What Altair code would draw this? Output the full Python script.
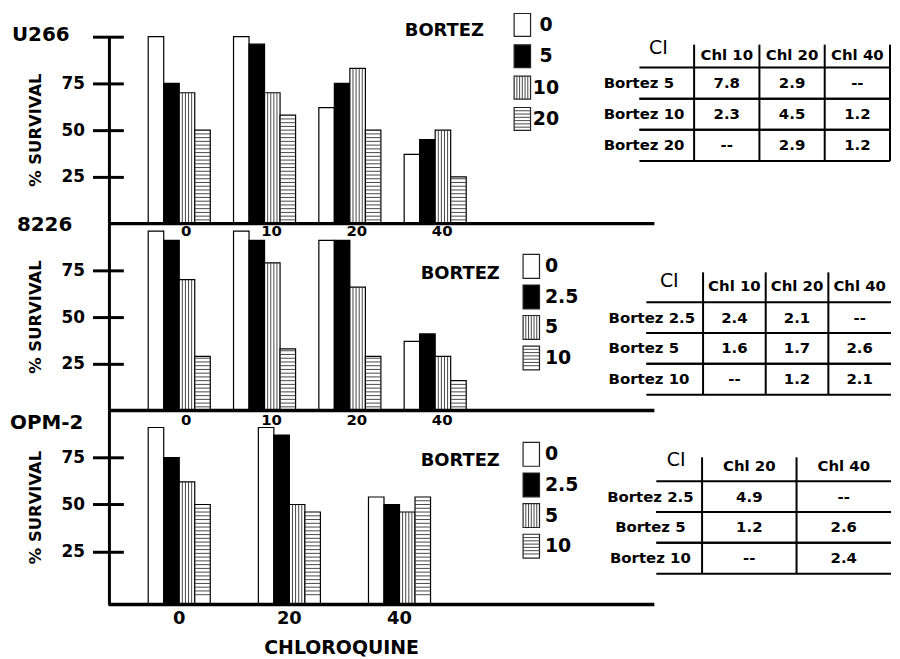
import altair as alt
import pandas as pd
import numpy as np

FONT = "DejaVu Sans"

# ---------------- data ----------------
# U266
u266_chl = ["0", "10", "20", "40"]
u266_bortez = ["0", "5", "10", "20"]
u266_b0 = [100, 100, 62, 37]
u266_b1 = [75, 96, 75, 45]
u266_b2 = [70, 70, 83, 50]
u266_b3 = [50, 58, 50, 25]
u266_ci_rows = ["Bortez 5", "Bortez 10", "Bortez 20"]
u266_ci_cols = ["Chl 10", "Chl 20", "Chl 40"]
u266_ci = [["7.8", "2.9", "--"], ["2.3", "4.5", "1.2"], ["--", "2.9", "1.2"]]

# 8226
r8226_chl = ["0", "10", "20", "40"]
r8226_bortez = ["0", "2.5", "5", "10"]
r8226_b0 = [96, 96, 91, 37]
r8226_b1 = [91, 91, 91, 41]
r8226_b2 = [70, 79, 66, 29]
r8226_b3 = [29, 33, 29, 16]
r8226_ci_rows = ["Bortez 2.5", "Bortez 5", "Bortez 10"]
r8226_ci_cols = ["Chl 10", "Chl 20", "Chl 40"]
r8226_ci = [["2.4", "2.1", "--"], ["1.6", "1.7", "2.6"], ["--", "1.2", "2.1"]]

# OPM-2
opm2_chl = ["0", "20", "40"]
opm2_bortez = ["0", "2.5", "5", "10"]
opm2_b0 = [91, 91, 54]
opm2_b1 = [75, 87, 50]
opm2_b2 = [62, 50, 46]
opm2_b3 = [50, 46, 54]
opm2_ci_rows = ["Bortez 2.5", "Bortez 5", "Bortez 10"]
opm2_ci_cols = ["Chl 20", "Chl 40"]
opm2_ci = [["4.9", "--"], ["1.2", "2.6"], ["--", "2.4"]]

# ---------------- layout ----------------
W = 787          # plot width (axis to right edge of tables)
BW = 15.6        # px per bar
FILLS = ["white", "black", "white", "white"]
STRIPE = "#333333"


def one():
    return pd.DataFrame({"k": [0]})


def make_row(cfg):
    H = cfg["H"]
    stride = cfg["stride"]
    # ---------- group A : bars through data scales ----------
    xs = alt.Scale(domain=[-2.5, W / BW - 2.5], nice=False, zero=False)
    ys = alt.Scale(domain=cfg["ydom"], nice=False, zero=False)
    yaxis = alt.Axis(values=cfg["ticks"], domain=False, grid=False, tickSize=31,
                     tickWidth=3, tickColor="black", offset=-14, labelFont=FONT,
                     labelFontSize=17, labelFontWeight="bold", labelColor="black",
                     labelPadding=8, title=None,
                     labelExpr="datum.value == 100 ? '' : datum.label")

    def X():
        return alt.X("u:Q", scale=xs, axis=None)

    def Y():
        return alt.Y("v:Q", scale=ys, axis=yaxis)

    recs = []
    for s, (b, vals) in enumerate(zip(cfg["bortez"], cfg["series"])):
        for g, (c, v) in enumerate(zip(cfg["chl"], vals)):
            u = g * stride + s
            recs.append(dict(chl=c, bortez=b, s=s, v=v, u=u, u2=u + 1, fill=FILLS[s]))
    bdf = pd.DataFrame(recs)

    vs = []
    hs = []
    for r in recs:
        if r["s"] == 2:
            for k in range(1, 5):
                vs.append(dict(u=r["u"] + k * 0.2, v=r["v"]))
        if r["s"] == 3:
            for lev in np.arange(2, r["v"] - 0.9, 2.0):
                hs.append(dict(u=r["u"], u2=r["u2"], v=float(lev)))
    vdf = pd.DataFrame(vs)
    hdf = pd.DataFrame(hs)

    bars = alt.Chart(bdf).mark_rect(stroke="black", strokeWidth=1.2).encode(
        x=X(), x2="u2:Q", y=Y(), y2=alt.value(H), fill=alt.Fill("fill:N", scale=None))
    vstr = alt.Chart(vdf).mark_rule(color=STRIPE, strokeWidth=0.9).encode(
        x=X(), y=Y(), y2=alt.value(H))
    hstr = alt.Chart(hdf).mark_rule(color=STRIPE, strokeWidth=0.9).encode(
        x=X(), x2="u2:Q", y=Y())
    ldf = pd.DataFrame({"chl": cfg["chl"],
                        "u": [g * stride + 2 + cfg["lab_off"] for g in range(len(cfg["chl"]))]})
    glabels = alt.Chart(ldf).mark_text(font=FONT, fontWeight="bold", fontSize=cfg["lab_size"],
                                       baseline="middle", align="center", color="black").encode(
        x=X(), y=alt.value(cfg["lab_y"]), text="chl:N")

    yline = alt.Chart(one()).mark_rule(color="black", strokeWidth=3).encode(
        x=alt.value(0), y=alt.value(0), y2=alt.value(H))
    xline = alt.Chart(one()).mark_rule(color="black", strokeWidth=3.5).encode(
        x=alt.value(-1), x2=alt.value(548), y=alt.value(H))
    ytitle = alt.Chart(one()).mark_text(text="% SURVIVAL", font=FONT, fontWeight="bold",
                                        fontSize=16.5, angle=270, align="center",
                                        baseline="middle", color="black").encode(
        x=alt.value(-74), y=alt.value(H / 2))
    pname = alt.Chart(one()).mark_text(text=cfg["name"], font=FONT, fontWeight="bold",
                                       fontSize=20, align="left", baseline="middle",
                                       color="black").encode(
        x=alt.value(cfg["name_xy"][0]), y=alt.value(cfg["name_xy"][1]))
    bortez_t = alt.Chart(one()).mark_text(text="BORTEZ", font=FONT, fontWeight="bold",
                                          fontSize=18, align="left", baseline="middle",
                                          color="black").encode(
        x=alt.value(cfg["bortez_xy"][0]), y=alt.value(cfg["bortez_xy"][1]))
    alayers = [bars, vstr, hstr, glabels, yline, xline, ytitle, pname, bortez_t]
    if cfg.get("xtitle"):
        alayers.append(alt.Chart(one()).mark_text(text="CHLOROQUINE", font=FONT,
                                                  fontWeight="bold", fontSize=19,
                                                  align="center", baseline="middle",
                                                  color="black").encode(
            x=alt.value(233.5), y=alt.value(239)))
    groupA = alt.layer(*alayers)

    # ---------- group B : hand-drawn legend (pixel scale) ----------
    pxs = alt.Scale(domain=[0, W], nice=False, zero=False)
    pys = alt.Scale(domain=[0, H], nice=False, zero=False, reverse=True)
    lx0, ltop, lstep, lh, lw = cfg["leg"]
    lrec, lvs, lhs, llab = [], [], [], []
    for i, b in enumerate(cfg["bortez"]):
        t = ltop + i * lstep
        lrec.append(dict(px=lx0, px2=lx0 + lw, py=t, py2=t + lh, fill=FILLS[i]))
        llab.append(dict(label=b, py=t + lh / 2))
        if i == 2:
            for k in range(1, 6):
                lvs.append(dict(px=lx0 + k * lw / 6, py=t, py2=t + lh))
        if i == 3:
            for yy in np.arange(t + 3.3, t + lh - 1, 3.3):
                lhs.append(dict(px=lx0, px2=lx0 + lw, py=float(yy)))
    PX = lambda: alt.X("px:Q", scale=pxs, axis=None)
    PY = lambda: alt.Y("py:Q", scale=pys, axis=None)
    leg_r = alt.Chart(pd.DataFrame(lrec)).mark_rect(stroke="#222222", strokeWidth=1.2).encode(
        x=PX(), x2="px2:Q", y=PY(), y2="py2:Q", fill=alt.Fill("fill:N", scale=None))
    leg_v = alt.Chart(pd.DataFrame(lvs)).mark_rule(color=STRIPE, strokeWidth=0.9).encode(
        x=PX(), y=PY(), y2="py2:Q")
    leg_h = alt.Chart(pd.DataFrame(lhs)).mark_rule(color=STRIPE, strokeWidth=0.9).encode(
        x=PX(), x2="px2:Q", y=PY())
    leg_t = alt.Chart(pd.DataFrame(llab)).mark_text(font=FONT, fontWeight="bold", fontSize=19,
                                                    align=cfg["leg_align"], baseline="middle",
                                                    color="black").encode(
        x=alt.value(cfg["leg_lx"]), y=PY(), text="label:N")
    groupB = alt.layer(leg_r, leg_v, leg_h, leg_t)

    # ---------- group C : CI table (band scales) ----------
    tb = cfg["table"]
    cols, rows, vals = tb["cols"], tb["rows"], tb["vals"]
    cxs = alt.Scale(domain=cols, range=tb["xr"], paddingInner=0, paddingOuter=0)
    rys = alt.Scale(domain=rows, range=tb["yr"], paddingInner=0, paddingOuter=0)
    cells = pd.DataFrame([dict(row=r, col=c, val=vals[i][j])
                          for i, r in enumerate(rows) for j, c in enumerate(cols)])
    cdf = pd.DataFrame({"col": cols})
    rdf = pd.DataFrame({"row": rows})
    txt = dict(font=FONT, fontWeight="bold", fontSize=15, baseline="middle", color="black")
    t_cells = alt.Chart(cells).mark_text(align="center", **txt).encode(
        x=alt.X("col:N", scale=cxs, axis=None), y=alt.Y("row:N", scale=rys, axis=None),
        text="val:N")
    t_head = alt.Chart(cdf).mark_text(align="center", **txt).encode(
        x=alt.X("col:N", scale=cxs, axis=None), y=alt.value(tb["head_y"]), text="col:N")
    t_rows = alt.Chart(rdf).mark_text(align=tb["rl_align"], **txt).encode(
        x=alt.value(tb["rl_x"]), y=alt.Y("row:N", scale=rys, axis=None), text="row:N")
    t_ci = alt.Chart(one()).mark_text(text="CI", font=FONT, fontSize=19, align="center",
                                      baseline="middle", color="black").encode(
        x=alt.value(tb["ci"][0]), y=alt.value(tb["ci"][1]))
    hl0 = alt.Chart(rdf).mark_rule(color="black", strokeWidth=2).encode(
        y=alt.Y("row:N", scale=rys, axis=None, bandPosition=0),
        x=alt.value(tb["hx"][0]), x2=alt.value(tb["hx"][1]))
    hl1 = alt.Chart(rdf).mark_rule(color="black", strokeWidth=2).encode(
        y=alt.Y("row:N", scale=rys, axis=None, bandPosition=1),
        x=alt.value(tb["hx"][0]), x2=alt.value(tb["hx"][1]))
    vl0 = alt.Chart(cdf).mark_rule(color="black", strokeWidth=2).encode(
        x=alt.X("col:N", scale=cxs, axis=None, bandPosition=0),
        y=alt.value(tb["vy0"]), y2=alt.value(tb["yr"][1]))
    clayers = [t_cells, t_head, t_rows, t_ci, hl0, hl1, vl0]
    if tb.get("right_edge"):
        clayers.append(alt.Chart(pd.DataFrame({"col": cols[-1:]})).mark_rule(
            color="black", strokeWidth=2).encode(
            x=alt.X("col:N", scale=cxs, axis=None, bandPosition=1),
            y=alt.value(tb["vy0"]), y2=alt.value(tb["yr"][1])))
    groupC = alt.layer(*clayers)

    return alt.layer(groupA, groupB, groupC).resolve_scale(
        x="independent", y="independent").properties(width=W, height=H)


row1 = make_row(dict(
    name="U266", name_xy=(-98, -2), H=188, ydom=[0, 100], ticks=[25, 50, 75, 100],
    chl=u266_chl, bortez=u266_bortez, series=[u266_b0, u266_b1, u266_b2, u266_b3],
    stride=5.5, lab_off=0.45, lab_y=195.5, lab_size=15,
    bortez_xy=(297, -6), leg=(407, -23.3, 31.5, 23, 16.5), leg_lx=439, leg_align="center",
    table=dict(cols=u266_ci_cols, rows=u266_ci_rows, vals=u266_ci, xr=[588, 785], yr=[31, 125],
               head_y=18, vy0=8, hx=(533, 785), ci=(552, 11), rl_x=497, rl_align="left",
               right_edge=True)))

row2 = make_row(dict(
    name="8226", name_xy=(-93, 1), H=188, ydom=[0, 100], ticks=[25, 50, 75],
    chl=r8226_chl, bortez=r8226_bortez, series=[r8226_b0, r8226_b1, r8226_b2, r8226_b3],
    stride=5.5, lab_off=0.45, lab_y=198, lab_size=15,
    bortez_xy=(313, 50.5), leg=(416, 31, 30.7, 24, 16.5), leg_lx=438, leg_align="left",
    table=dict(cols=r8226_ci_cols, rows=r8226_ci_rows, vals=r8226_ci, xr=[597, 786],
               yr=[79, 172], head_y=63, vy0=49, hx=(540, 786), ci=(563, 58), rl_x=502,
               rl_align="left")))

row3 = make_row(dict(
    name="OPM-2", name_xy=(-100, 13), H=195, ydom=[-3.2, 100], ticks=[25, 50, 75],
    chl=opm2_chl, bortez=opm2_bortez, series=[opm2_b0, opm2_b1, opm2_b2, opm2_b3],
    stride=7.1, lab_off=0, lab_y=210, lab_size=18, xtitle=True,
    bortez_xy=(313, 50.5), leg=(416, 32, 30.8, 24, 16.5), leg_lx=438, leg_align="left",
    table=dict(cols=opm2_ci_cols, rows=opm2_ci_rows, vals=opm2_ci, xr=[596, 786],
               yr=[71, 164], head_y=56, vy0=47, hx=(550, 786), ci=(570, 50), rl_x=544,
               rl_align="center")))

chart = alt.vconcat(row1, row2, row3, spacing=0, bounds="flush").resolve_scale(
    x="independent", y="independent").properties(
    padding={"left": 2, "top": 3, "right": 0, "bottom": 0}).configure_view(stroke=None)

chart.save("out.html", embed_options={"renderer": "svg", "actions": False})
